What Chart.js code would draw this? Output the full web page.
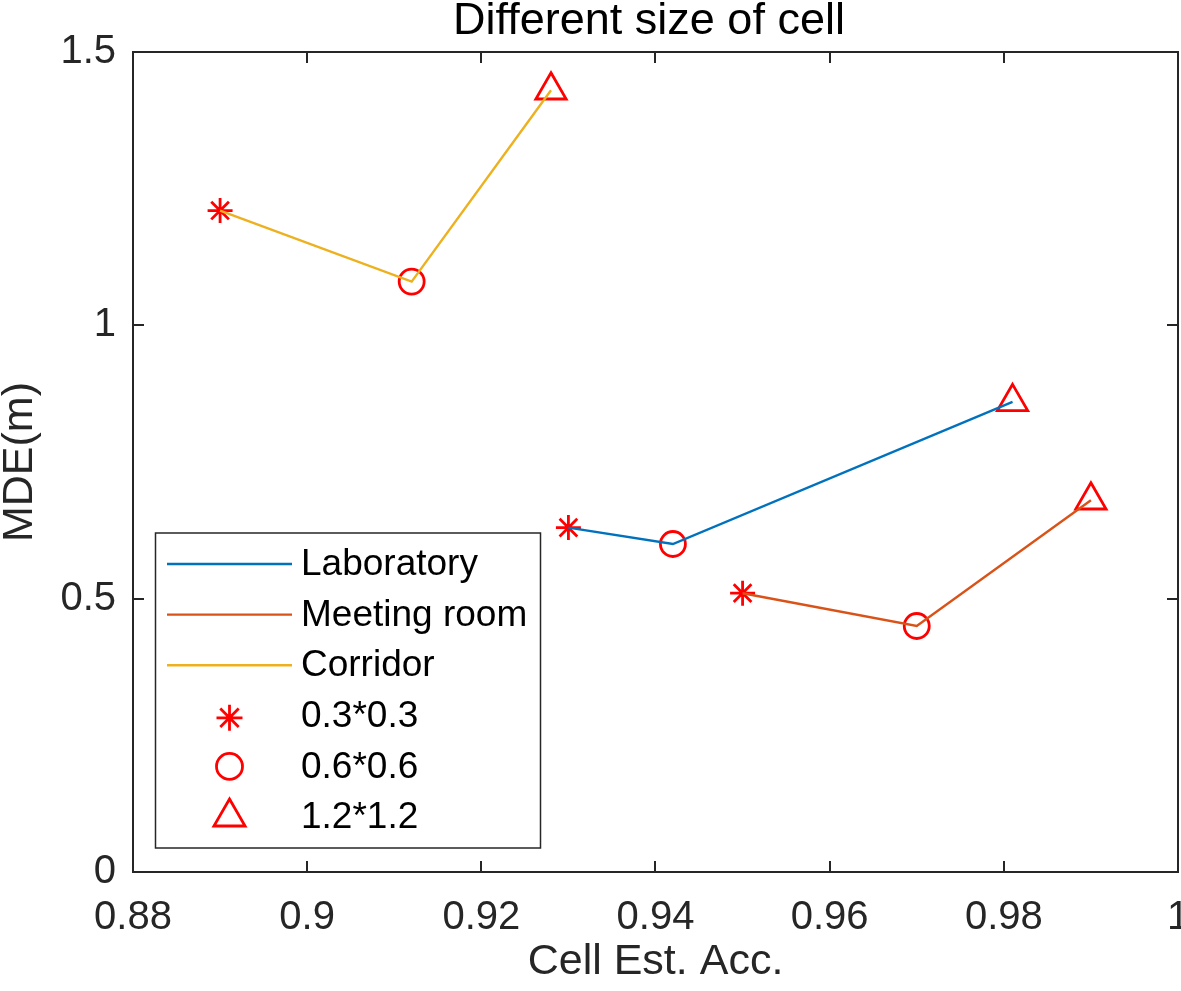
<!DOCTYPE html>
<html>
<head>
<meta charset="utf-8">
<script src="https://cdn.jsdelivr.net/npm/chart.js@4"></script>
<style>
  html, body { margin: 0; padding: 0; background: #fff; }
  canvas { display: block; }
</style>
</head>
<body>
<canvas id="c" width="1181" height="991" style="width:1181px;height:991px"></canvas>
<script>
// ---- data ----
const chartTitle = 'Different size of cell';
const rooms = ['Laboratory', 'Meeting room', 'Corridor'];
const cellSizes = ['0.3*0.3', '0.6*0.6', '1.2*1.2'];
const labAcc = [0.930, 0.942, 0.981];
const labMDE = [0.63, 0.60, 0.86];
const meetAcc = [0.950, 0.970, 0.990];
const meetMDE = [0.51, 0.45, 0.68];
const corrAcc = [0.890, 0.912, 0.928];
const corrMDE = [1.21, 1.08, 1.43];
const xTicks = [0.88, 0.90, 0.92, 0.94, 0.96, 0.98, 1.00];
const xTickLabels = ['0.88', '0.9', '0.92', '0.94', '0.96', '0.98', '1'];
const yTicks = [0, 0.5, 1, 1.5];
const yTickLabels = ['0', '0.5', '1', '1.5'];

// ---- styles ----
const FONT = '"Liberation Sans", Arial, Helvetica, sans-serif';
const AXIS_COLOR = '#262626';
const lineColors = ['#0072BD', '#D95319', '#EDB120'];
const markerStyles = ['star', 'circle', 'triangle'];
const markerRadii = [12.5, 12.5, 17.5];
const MARKER_COLOR = '#FF0000';
const LINE_W = 2.4;

const accs = [labAcc, meetAcc, corrAcc];
const mdes = [labMDE, meetMDE, corrMDE];

const datasets = [];
rooms.forEach((r, i) => {
  datasets.push({
    type: 'line', label: r,
    data: accs[i].map((x, k) => ({ x: x, y: mdes[i][k] })),
    borderColor: lineColors[i], backgroundColor: lineColors[i],
    borderWidth: LINE_W, pointRadius: 0, fill: false, tension: 0
  });
});
cellSizes.forEach((c, k) => {
  datasets.push({
    type: 'scatter', label: c,
    data: rooms.map((r, i) => ({ x: accs[i][k], y: mdes[i][k] })),
    pointStyle: markerStyles[k], pointRadius: markerRadii[k],
    borderColor: MARKER_COLOR, backgroundColor: 'rgba(0,0,0,0)',
    pointBorderWidth: 2.8, borderWidth: 2.8, showLine: false
  });
});

const frameAndLegend = {
  id: 'frameAndLegend',
  afterDatasetsDraw(chart) {
    const ctx = chart.ctx;
    const a = chart.chartArea;
    const xs = chart.scales.x, ys = chart.scales.y;
    ctx.save();
    // title
    ctx.fillStyle = '#000';
    ctx.font = '45px ' + FONT;
    ctx.textAlign = 'center';
    ctx.textBaseline = 'alphabetic';
    ctx.fillText(chartTitle, 649, 34);

    // axes box with inward ticks
    ctx.strokeStyle = AXIS_COLOR;
    ctx.lineWidth = 2;
    ctx.beginPath();
    ctx.rect(a.left, a.top, a.right - a.left, a.bottom - a.top);
    ctx.stroke();
    const tl = 11;
    ctx.beginPath();
    xTicks.forEach(v => {
      const px = Math.round(xs.getPixelForValue(v));
      ctx.moveTo(px, a.bottom); ctx.lineTo(px, a.bottom - tl);
      ctx.moveTo(px, a.top); ctx.lineTo(px, a.top + tl);
    });
    yTicks.forEach(v => {
      const py = Math.round(ys.getPixelForValue(v));
      ctx.moveTo(a.left, py); ctx.lineTo(a.left + tl, py);
      ctx.moveTo(a.right, py); ctx.lineTo(a.right - tl, py);
    });
    ctx.stroke();

    // legend
    const bx = 155.5, by = 533, bw = 385, bh = 315;
    ctx.fillStyle = '#fff';
    ctx.fillRect(bx, by, bw, bh);
    ctx.lineWidth = 1.5;
    ctx.strokeStyle = AXIS_COLOR;
    ctx.strokeRect(bx, by, bw, bh);
    const rowY0 = 564, rowDy = 50.6;
    const lx0 = 167, lx1 = 292, tx = 301;
    ctx.font = '37px ' + FONT;
    ctx.textBaseline = 'middle';
    ctx.textAlign = 'left';
    rooms.forEach((r, i) => {
      const y = rowY0 + i * rowDy;
      ctx.strokeStyle = lineColors[i];
      ctx.lineWidth = LINE_W;
      ctx.beginPath(); ctx.moveTo(lx0, y); ctx.lineTo(lx1, y); ctx.stroke();
      ctx.fillStyle = '#000';
      ctx.fillText(r, tx, y + 1);
    });
    cellSizes.forEach((c, k) => {
      const y = rowY0 + (k + 3) * rowDy;
      ctx.strokeStyle = MARKER_COLOR;
      ctx.fillStyle = 'rgba(0,0,0,0)';
      ctx.lineWidth = 2.8;
      Chart.helpers.drawPoint(ctx, { pointStyle: markerStyles[k], radius: markerRadii[k] + 0.5, rotation: 0, borderWidth: 2.8 }, (lx0 + lx1) / 2, y + (k === 0 ? 2 : 0));
      ctx.fillStyle = '#000';
      ctx.fillText(c, tx, y + 1);
    });
    ctx.restore();
  }
};

new Chart(document.getElementById('c'), {
  data: { datasets: datasets },
  plugins: [frameAndLegend],
  options: {
    responsive: false,
    animation: false,
    devicePixelRatio: 1,
    layout: { autoPadding: false, padding: { left: 0, right: 3, top: 52, bottom: 0 } },
    plugins: { legend: { display: false }, tooltip: { enabled: false }, title: { display: false } },
    scales: {
      x: {
        type: 'linear', position: 'bottom', min: 0.88, max: 1.0,
        afterFit(s) { s.height = 119; s.paddingLeft = 0; s.paddingRight = 0; },
        afterBuildTicks(s) { s.ticks = xTicks.map(v => ({ value: v })); },
        grid: { display: false, drawTicks: false },
        border: { display: false },
        ticks: {
          color: AXIS_COLOR, font: { family: FONT, size: 40 }, padding: 22,
          maxRotation: 0, minRotation: 0, autoSkip: false,
          callback(v, idx) { return xTickLabels[idx]; }
        },
        title: {
          display: true, text: 'Cell Est. Acc.', color: AXIS_COLOR,
          font: { family: FONT, size: 43, lineHeight: '40px' },
          padding: { top: 0, bottom: 9 }
        }
      },
      y: {
        type: 'linear', position: 'left', min: 0, max: 1.5,
        afterFit(s) { s.width = 133; s.paddingTop = 0; s.paddingBottom = 0; },
        afterBuildTicks(s) { s.ticks = yTicks.map(v => ({ value: v })); },
        grid: { display: false, drawTicks: false },
        border: { display: false },
        ticks: {
          color: AXIS_COLOR, font: { family: FONT, size: 40 }, padding: 17, autoSkip: false,
          callback(v, idx) { return yTickLabels[idx]; }
        },
        title: {
          display: true, text: 'MDE(m)', color: AXIS_COLOR,
          font: { family: FONT, size: 43, lineHeight: '40px' },
          padding: { top: 0, bottom: 0 }
        }
      }
    }
  }
});
</script>
</body>
</html>
